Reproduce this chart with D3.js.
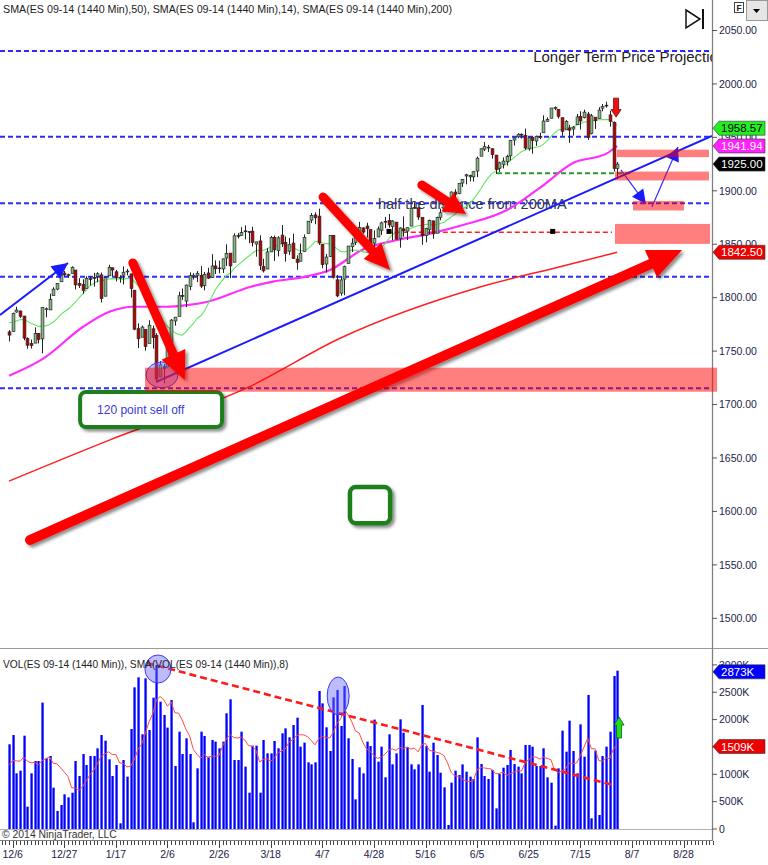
<!DOCTYPE html>
<html><head><meta charset="utf-8">
<script src="https://cdn.jsdelivr.net/npm/d3@7"></script>
<style>
html,body{margin:0;padding:0;background:#fff;}
svg{display:block;font-family:"Liberation Sans",Arial,sans-serif;}
</style></head><body>
<svg id="c" width="768" height="865"></svg>
<script>
// ---------------- DATA ----------------
const opens = [1768.0,1768.4,1786.6,1787.5,1782.8,1761.7,1757.0,1757.5,1766.5,1761.5,
1789.0,1788.6,1802.0,1808.0,1814.9,1823.0,1821.5,1822.6,1825.9,1813.2,
1812.3,1808.7,1817.9,1819.0,1820.1,1821.3,1801.4,1820.5,1828.0,1824.2,
1818.5,1821.1,1824.7,1822.3,1807.0,1771.0,1763.0,1770.2,1757.2,1770.9,
1764.7,1725.8,1735.4,1735.0,1758.0,1778.2,1782.5,1802.1,1796.8,1810.5,
1820.0,1820.8,1820.9,1811.2,1823.1,1818.8,1829.7,1827.8,1826.9,1837.1,
1841.7,1833.2,1858.1,1858.2,1862.5,1861.9,1862.3,1850.2,1853.1,1829.1,
1826.8,1842.9,1856.3,1844.1,1858.5,1851.7,1843.5,1851.1,1836.1,1834.1,
1843.2,1860.0,1872.6,1877.4,1876.3,1849.9,1831.5,1838.6,1858.3,1816.7,
1804.2,1817.4,1832.0,1847.7,1851.8,1858.6,1865.3,1867.0,1863.7,1851.0,
1856.8,1863.1,1871.4,1872.3,1866.5,1870.7,1855.5,1864.4,1862.3,1867.0,
1883.8,1884.1,1875.2,1858.2,1863.7,1871.9,1860.3,1875.2,1880.3,1887.5,
1889.0,1898.8,1897.6,1907.3,1913.9,1913.1,1913.1,1918.5,1932.4,1939.0,
1940.3,1939.4,1933.4,1920.8,1924.8,1927.2,1932.7,1947.5,1950.5,1952.9,
1952.0,1939.3,1949.9,1946.6,1950.8,1954.3,1965.1,1967.9,1977.0,1976.2,
1968.4,1957.1,1958.7,1957.8,1961.9,1969.4,1968.4,1971.8,1953.5,1968.9,
1967.6,1977.3,1980.1,1971.0,1964.0,1921.0];
const highs = [1769.6,1786.0,1791.5,1788.0,1783.0,1762.9,1760.8,1772.2,1766.8,1791.1,
1790.9,1803.8,1809.8,1813.3,1822.8,1824.9,1822.5,1829.4,1825.9,1818.2,
1817.2,1820.1,1820.0,1823.2,1823.8,1823.5,1819.3,1830.8,1828.0,1826.0,
1821.0,1829.3,1826.9,1822.3,1807.0,1776.0,1773.9,1770.2,1778.8,1773.9,
1766.8,1740.7,1737.8,1756.1,1780.0,1781.9,1805.5,1808.6,1812.3,1823.7,
1823.0,1824.9,1829.5,1824.1,1828.1,1840.7,1834.9,1834.7,1836.5,1849.9,
1841.7,1860.2,1860.5,1865.9,1867.6,1861.9,1866.4,1852.4,1858.4,1836.4,
1846.3,1857.8,1858.1,1857.5,1868.0,1857.3,1855.9,1859.9,1839.6,1850.6,
1859.2,1871.8,1879.2,1879.8,1883.3,1850.0,1841.0,1858.4,1858.5,1821.1,
1820.2,1830.0,1848.3,1855.6,1857.9,1870.9,1865.8,1870.1,1863.7,1863.0,
1866.6,1871.2,1875.6,1878.3,1872.5,1870.7,1865.8,1876.1,1865.6,1884.1,
1889.2,1884.1,1875.2,1865.3,1873.0,1871.9,1875.8,1883.3,1888.3,1892.0,
1899.3,1901.5,1907.0,1911.0,1915.9,1915.1,1918.6,1932.0,1939.4,1945.6,
1943.0,1939.4,1933.4,1927.3,1931.2,1933.7,1947.7,1949.9,1953.9,1953.7,
1958.2,1950.8,1949.9,1951.5,1954.2,1970.6,1968.7,1977.6,1979.0,1976.2,
1968.4,1966.2,1961.8,1960.7,1971.9,1974.5,1975.9,1973.8,1971.9,1968.9,
1978.2,1981.2,1983.4,1975.0,1965.0,1927.0];
const lows = [1759.1,1768.4,1786.0,1781.0,1760.1,1752.3,1752.4,1757.5,1757.2,1748.0,
1781.7,1788.6,1802.0,1807.0,1814.9,1819.8,1818.8,1822.4,1807.7,1809.1,
1803.7,1808.7,1811.4,1810.4,1814.4,1795.5,1801.4,1820.5,1820.3,1815.2,
1814.0,1812.4,1820.9,1800.1,1769.5,1752.9,1763.0,1750.5,1757.2,1752.3,
1721.7,1725.8,1719.9,1735.0,1758.0,1773.8,1782.5,1798.0,1791.2,1807.0,
1817.0,1814.6,1809.0,1806.9,1817.6,1818.8,1822.2,1822.7,1823.1,1829.7,
1818.4,1833.2,1855.4,1858.2,1854.6,1851.0,1847.9,1838.4,1825.9,1823.6,
1826.8,1842.9,1834.4,1838.6,1847.5,1833.7,1840.0,1836.6,1826.1,1834.1,
1843.2,1860.0,1869.8,1868.7,1849.3,1827.5,1823.5,1838.4,1817.9,1800.4,
1801.8,1802.3,1832.0,1842.7,1849.2,1858.6,1859.9,1856.2,1845.7,1836.6,
1856.8,1858.7,1865.0,1865.5,1853.8,1854.7,1846.8,1857.1,1854.0,1867.0,
1883.1,1872.8,1849.4,1851.8,1859.4,1855.1,1860.3,1872.4,1880.3,1886.5,
1889.0,1894.3,1896.8,1903.6,1906.0,1908.8,1908.6,1912.9,1932.4,1937.2,
1936.4,1930.1,1915.8,1917.7,1920.9,1923.6,1928.4,1942.3,1949.2,1948.9,
1938.3,1937.5,1934.7,1942.0,1948.2,1954.3,1964.6,1967.9,1975.5,1967.7,
1951.5,1957.1,1944.9,1951.6,1961.9,1957.3,1967.7,1947.6,1952.8,1957.8,
1967.6,1974.4,1977.8,1960.0,1918.0,1911.0];
const closes = [1765.0,1785.1,1788.4,1782.6,1762.2,1755.5,1755.3,1766.5,1761.0,1790.7,
1789.6,1798.3,1808.0,1813.3,1822.0,1821.4,1821.1,1828.4,1812.0,1811.4,
1806.8,1817.9,1817.5,1818.1,1822.4,1799.2,1818.9,1828.4,1825.9,1818.7,
1819.0,1823.8,1824.9,1808.5,1770.5,1761.6,1772.5,1754.2,1774.2,1762.6,
1723.9,1737.2,1733.6,1755.4,1779.0,1781.8,1801.8,1801.3,1811.8,1820.6,
1821.0,1822.8,1810.8,1821.8,1818.3,1829.6,1827.1,1827.2,1836.3,1841.5,
1829.7,1857.9,1857.8,1861.0,1862.0,1861.2,1851.6,1852.2,1830.3,1825.1,
1842.8,1856.3,1844.8,1856.0,1850.5,1841.4,1849.6,1836.6,1833.0,1841.6,
1856.3,1871.5,1876.9,1874.8,1851.1,1831.0,1838.0,1858.2,1819.1,1801.7,
1816.6,1829.0,1848.3,1850.9,1857.9,1865.6,1861.4,1864.6,1849.4,1855.4,
1864.3,1870.0,1870.7,1868.1,1871.7,1854.7,1865.2,1862.6,1865.5,1883.7,
1884.5,1875.5,1857.9,1864.9,1872.1,1859.8,1875.0,1879.5,1887.5,1891.0,
1898.9,1896.8,1907.0,1910.6,1915.0,1914.2,1917.9,1930.5,1939.4,1941.3,
1940.8,1933.9,1920.1,1926.2,1927.8,1932.0,1947.0,1949.5,1952.9,1952.6,
1940.0,1949.5,1947.2,1951.0,1950.2,1965.3,1966.6,1977.4,1978.0,1969.7,
1955.7,1964.8,1956.7,1959.6,1969.1,1965.3,1973.6,1950.1,1970.2,1965.6,
1975.5,1979.0,1980.0,1965.0,1921.0,1925.0];
// closes of the 13 sessions before the first visible bar (for SMA 14)
const priorCloses = [1778.2,1771.5,1767.9,1761.4,1775.9,1784.8,1782.5,1782.8,1787.2,1785.8,1780.9,1775.2,1772.8];
// volume, thousands of contracts
const volumes = [1548,1718,1018,1066,1706,408,1018,1243,1243,2310,
1292,1335,756,329,439,634,579,664,1243,969,
1371,1170,1335,1335,1475,1718,1615,1274,969,1170,
104,1261,957,1828,2590,2773,1731,2754,1810,2401,
2998,2328,2084,1853,2358,1152,1779,1371,1658,1371,
122,1109,1779,1700,1322,1627,1597,1475,1597,2115,
2371,1261,1261,1779,1140,664,1523,1523,664,1627,
1383,1383,1609,1475,1749,1840,1676,1901,2035,1505,
1578,1219,1182,1219,2523,2297,1859,1426,2407,2541,
1883,2614,1658,1280,542,1127,1018,1597,
1517,2000,1231,1505,945,1731,1182,1383,2005,1761,
1493,1182,1091,1182,2267,1517,1048,1578,1353,1030,
762,73,847,1066,987,1182,1048,957,914,1676,
1188,969,914,1079,378,1005,1121,1170,1444,1188,
1140,1018,1536,1536,1505,1152,1152,1475,945,847,
61,1109,1798,1414,1981,1426,1018,1913,1322,2450,
195,1432,256,1334,1505,1779,2797,2894];
const priorVolumes = [1100,1050,1150,1100,1000,1250,1200];
// SMA 50 and SMA 200 (bar index, value)
const sma50Bars = [0,9.3,20.2,27.4,33.7,42.8,48.2,53.6,65.4,71.6,80.8,87.1,96,105.3,114.2,123.2,135.1,144.1,153,162.2,165];
const sma50Vals = [1727,1743,1773,1787,1791.5,1791.5,1793,1796,1810,1815,1820,1826,1845,1854,1860,1868,1882,1903,1926,1935,1941.94];
const sma200Bars = [0,27.4,65.4,89.8,127.8,149.5,165];
const sma200Vals = [1628.4,1667,1717,1762,1810,1829,1842.5];
// axes
const priceTicks = [1500,1550,1600,1650,1700,1750,1800,1850,1900,1950,2000,2050];
const volTicks = [0,500,1000,2000,2500,3000];   // 1500K sits fully behind the 1509K marker in the reference
const xTickLabels = ["12/6","12/27","1/17","2/6","2/26","3/18","4/7","4/28","5/16","6/5","6/25","7/15","8/7","8/28"];
const xTickBars = [1,15,29,43,57,71,85,99,113,127,141,155,169,183];
// last-value markers
const priceMarkers = [{v:1958.57,t:"1958.57",bg:"#22ee22",fg:"#000"},{v:1941.94,t:"1941.94",bg:"#ff22ff",fg:"#fff"},{v:1925.00,t:"1925.00",bg:"#000",fg:"#fff"},{v:1842.50,t:"1842.50",bg:"#ee0000",fg:"#fff"}];
const volMarkers = [{v:2873,t:"2873K",bg:"#0000ff",fg:"#fff"},{v:1509,t:"1509K",bg:"#ee0000",fg:"#fff"}];

// drawing objects (bar index / price coordinates)
const blueLevels = [2030.8,1950.6,1888.3,1819.5,1715.2];
const zones = [[36.9,192.1,1734.5,1712],[164.9,189.9,1938.5,1931.5],[164.4,189.9,1918,1909.7],[169.3,183.1,1890.5,1881.6],[164.4,190.2,1869,1850.3]];

// ---------------- CHART ----------------
const svg = d3.select("#c");
const PR = 712;
const x = d3.scaleLinear().domain([0,165]).range([9, 9+165*3.686]);
const yP = d3.scaleLinear().domain([1500,2050]).range([618.3,30.5]);
const yV = d3.scaleLinear().domain([0,3000]).range([829,664.9]);

const defs = svg.append("defs");
defs.append("clipPath").attr("id","cp").append("rect").attr("x",0).attr("y",0).attr("width",PR).attr("height",648);
defs.append("clipPath").attr("id","cv").append("rect").attr("x",0).attr("y",650).attr("width",PR).attr("height",180);
const f = defs.append("filter").attr("id","sh").attr("x","-30%").attr("y","-30%").attr("width","160%").attr("height","160%");
f.append("feDropShadow").attr("dx",2.5).attr("dy",2.5).attr("stdDeviation",1.6).attr("flood-color","#000").attr("flood-opacity",0.45);

function sma(prior, vals, n){
  const all = prior.concat(vals);
  return vals.map((v,k)=>{const e=prior.length+k; let s=0; for(let j=e-n+1;j<=e;j++) s+=all[j]; return s/n;});
}
const sma14 = sma(priorCloses, closes, 14);
const volSma8 = sma(priorVolumes, volumes, 8);

// frame
svg.append("line").attr("x1",0).attr("x2",768).attr("y1",648.5).attr("y2",648.5).attr("stroke","#9a9a9a");
svg.append("line").attr("x1",PR+0.5).attr("x2",PR+0.5).attr("y1",0).attr("y2",841).attr("stroke","#808080").attr("stroke-width",1.3);
svg.append("line").attr("x1",0).attr("x2",PR).attr("y1",829.5).attr("y2",829.5).attr("stroke","#b0b0b0");
svg.append("line").attr("x1",0).attr("x2",PR+1).attr("y1",840.5).attr("y2",840.5).attr("stroke","#808080");

const gp = svg.append("g").attr("clip-path","url(#cp)");

// blue levels
gp.selectAll(".bl").data(blueLevels).enter().append("line")
  .attr("x1",0).attr("x2",PR).attr("y1",d=>yP(d)).attr("y2",d=>yP(d))
  .attr("stroke","#2b2bff").attr("stroke-width",2).attr("stroke-dasharray","5,3");

// text annotations
gp.append("text").attr("x",x(142.2)).attr("y",yP(2020.5)).attr("font-size",15).attr("fill","#222").text("Longer Term Price Projection");
gp.append("text").attr("x",x(100.1)).attr("y",yP(1882.8)).attr("font-size",14.5).attr("fill","#2e3650").text("half the distance from 200MA");

// green & red dashed lines
gp.append("line").attr("x1",x(132.4)).attr("x2",x(169)).attr("y1",yP(1916.4)).attr("y2",yP(1916.4))
  .attr("stroke","#2a9a2a").attr("stroke-width",2).attr("stroke-dasharray","5,3");
gp.append("line").attr("x1",x(102.5)).attr("x2",x(163.6)).attr("y1",yP(1861.2)).attr("y2",yP(1861.2))
  .attr("stroke","#ff2020").attr("stroke-width",1.6).attr("stroke-dasharray","5,3");

// moving averages
const line = d3.line();
gp.append("path").attr("d", d3.line().curve(d3.curveMonotoneX)(sma200Bars.map((b,k)=>[x(b),yP(sma200Vals[k])])))
  .attr("fill","none").attr("stroke","#ff2020").attr("stroke-width",1.5);
gp.append("path").attr("d", d3.line().curve(d3.curveMonotoneX)(sma50Bars.map((b,k)=>[x(b),yP(sma50Vals[k])])))
  .attr("fill","none").attr("stroke","#ff2eff").attr("stroke-width",2.2);
gp.append("path").attr("d", line(sma14.map((v,k)=>[x(k),yP(v)])))
  .attr("fill","none").attr("stroke","#5fe85f").attr("stroke-width",1.1);

// candles
const cg = gp.append("g");
closes.forEach((c,k)=>{
  const cx = Math.round(x(k))+0.5;
  cg.append("line").attr("x1",cx).attr("x2",cx).attr("y1",yP(highs[k])).attr("y2",yP(lows[k])).attr("stroke","#222").attr("stroke-width",1);
  const top = yP(Math.max(opens[k],c)), bot = yP(Math.min(opens[k],c));
  cg.append("rect").attr("x",cx-1.4).attr("width",2.8).attr("y",top).attr("height",Math.max(0.8,bot-top))
    .attr("fill", c>=opens[k] ? "#86b886" : "#b80000").attr("stroke","#262626").attr("stroke-width",0.7);
});

// trend line & blue arrows
function head(g,x1,y1,x2,y2,L,Hh,col){
  const a=Math.atan2(y2-y1,x2-x1),c=Math.cos(a),s=Math.sin(a),bx=x2-L*c,by=y2-L*s;
  g.append("path").attr("d",`M${x2},${y2}L${bx-Hh*s},${by+Hh*c}L${bx+Hh*s},${by-Hh*c}Z`).attr("fill",col);
}
gp.append("line").attr("x1",x(39.9)).attr("y1",yP(1721.1)).attr("x2",x(190.7)).attr("y2",yP(1951.3)).attr("stroke","#1a1aff").attr("stroke-width",2);
[[166,1919.5,172.8,1887.7],[174.4,1884.9,181.5,1941]].forEach(a=>{
  gp.append("line").attr("x1",x(a[0])).attr("y1",yP(a[1])).attr("x2",x(a[2])).attr("y2",yP(a[3])).attr("stroke","#3030ff").attr("stroke-width",1.2);
  head(gp,x(a[0]),yP(a[1]),x(a[2]),yP(a[3]),14,7,"#1a1aff");
});
gp.append("line").attr("x1",x(-2.44)).attr("y1",yP(1783.8)).attr("x2",x(16)).attr("y2",yP(1832.5)).attr("stroke","#1a1aff").attr("stroke-width",2);
head(gp,x(-2.44),yP(1783.8),x(16),yP(1832.5),16,8,"#1a1aff");

// zones (drawn unclipped: the long one runs past the axis)
svg.selectAll(".zn").data(zones).enter().append("rect")
  .attr("x",d=>x(d[0])).attr("width",d=>x(d[1])-x(d[0])).attr("y",d=>yP(d[2])).attr("height",d=>yP(d[3])-yP(d[2]))
  .attr("fill","#ff0000").attr("opacity",0.5);

// black squares on the red dashed line
[103.1,147.5].forEach(b=>gp.append("rect").attr("x",x(b)-2.5).attr("y",yP(1862)-2.5).attr("width",5).attr("height",5).attr("fill","#000"));

// ellipse at the low
gp.append("ellipse").attr("cx",x(41.5)).attr("cy",yP(1727.7)).attr("rx",16).attr("ry",13)
  .attr("fill","#6a6aff").attr("fill-opacity",0.45).attr("stroke","#3a3aff");

// red thick arrows
function thick(g,x1,y1,x2,y2,w,L,Hh){
  const a=Math.atan2(y2-y1,x2-x1),c=Math.cos(a),s=Math.sin(a),bx=x2-L*c,by=y2-L*s;
  const gg=g.append("g").attr("filter","url(#sh)");
  gg.append("line").attr("x1",x1).attr("y1",y1).attr("x2",bx+3*c).attr("y2",by+3*s).attr("stroke","#ff0000").attr("stroke-width",w).attr("stroke-linecap","round");
  gg.append("path").attr("d",`M${x2},${y2}L${bx-Hh*s},${by+Hh*c}L${bx+Hh*s},${by-Hh*c}Z`).attr("fill","#ff0000");
}
thick(gp,x(5.7),yP(1573.3),x(182.6),yP(1844.6),10,34,15);
thick(gp,x(33.6),yP(1832.5),x(47.7),yP(1723),9,28,13);
thick(gp,x(85.2),yP(1894.2),x(103.4),yP(1825.9),9,26,12);
thick(gp,x(112),yP(1905.4),x(124),yP(1878.3),9,22,11);

// small red down arrow on the last big candle
(function(){
  const cx=x(164.7), t=yP(1986.7), m=yP(1976), b=yP(1969);
  gp.append("path").attr("d",`M${cx-2.5},${t}L${cx+2.5},${t}L${cx+2.5},${m}L${cx+5},${m}L${cx},${b}L${cx-5},${m}L${cx-2.5},${m}Z`)
    .attr("fill","#ee1111").attr("stroke","#7a0000").attr("stroke-width",0.8);
})();

// callout boxes
gp.append("rect").attr("x",x(19.3)).attr("y",yP(1711.8)).attr("width",x(57.8)-x(19.3)).attr("height",yP(1679)-yP(1711.8))
  .attr("rx",6).attr("fill","#fff").attr("stroke","#1b7f1b").attr("stroke-width",4).attr("filter","url(#sh)");
gp.append("text").attr("x",x(23.9)).attr("y",yP(1691)).attr("font-size",12).attr("fill","#3a3ad8").text("120 point sell off");
gp.append("rect").attr("x",x(92.5)).attr("y",yP(1622.8)).attr("width",x(103.4)-x(92.5)).attr("height",yP(1589)-yP(1622.8))
  .attr("rx",6).attr("fill","#fff").attr("stroke","#1b7f1b").attr("stroke-width",4.5).attr("filter","url(#sh)");

// legend
svg.append("text").attr("x",3).attr("y",13).attr("font-size",10.7).attr("fill","#222")
  .text("SMA(ES 09-14 (1440 Min),50), SMA(ES 09-14 (1440 Min),14), SMA(ES 09-14 (1440 Min),200)");

// ---------------- VOLUME ----------------
const gv = svg.append("g").attr("clip-path","url(#cv)");
gv.selectAll(".vb").data(volumes).enter().append("rect")
  .attr("x",(d,k)=>Math.round(x(k))-0.6).attr("width",2.3).attr("y",d=>yV(d)).attr("height",d=>yV(0)-yV(d)).attr("fill","#0000ff");
gv.append("path").attr("d",line(volSma8.map((v,k)=>[x(k),yV(v)]))).attr("fill","none").attr("stroke","#ff4a4a").attr("stroke-width",1);
svg.append("text").attr("x",3).attr("y",668).attr("font-size",10.2).attr("fill","#222").text("VOL(ES 09-14 (1440 Min)), SMA(VOL(ES 09-14 (1440 Min)),8)");
gv.append("line").attr("x1",x(37.4)).attr("y1",yV(3035)).attr("x2",x(163.9)).attr("y2",yV(804))
  .attr("stroke","#ff1a1a").attr("stroke-width",2.6).attr("stroke-dasharray","7,4");
[[40.4,2925,13,14],[89.3,2432,11,19]].forEach(e=>gv.append("ellipse").attr("cx",x(e[0])).attr("cy",yV(e[1])).attr("rx",e[2]).attr("ry",e[3])
  .attr("fill","#6a6aff").attr("fill-opacity",0.45).attr("stroke","#3a3aff"));
(function(){
  const cx=x(165.5), t=yV(2047), m=yV(1900), b=yV(1664);
  gv.append("path").attr("d",`M${cx},${t}L${cx+5},${m}L${cx+2.5},${m}L${cx+2.5},${b}L${cx-2.5},${b}L${cx-2.5},${m}L${cx-5},${m}Z`)
    .attr("fill","#22dd22").attr("stroke","#006600").attr("stroke-width",0.8);
})();
svg.append("text").attr("x",2).attr("y",838).attr("font-size",10.4).attr("fill","#333").text("\u00a9 2014 NinjaTrader, LLC");

// ---------------- AXES ----------------
const ax = svg.append("g").attr("font-size",10.5).attr("fill","#23234a");
priceTicks.forEach(p=>{
  ax.append("line").attr("x1",PR).attr("x2",PR+5).attr("y1",yP(p)).attr("y2",yP(p)).attr("stroke","#555");
  ax.append("text").attr("x",PR+7).attr("y",yP(p)+3.8).text(p.toFixed(2));
});
[0,500,1000,1500,2000,2500,3000].forEach(v=>{
  ax.append("line").attr("x1",PR).attr("x2",PR+5).attr("y1",yV(v)).attr("y2",yV(v)).attr("stroke","#555");
});
volTicks.forEach(v=>{
  ax.append("text").attr("x",PR+7).attr("y",yV(v)+3.8).text(v===0?"0":v+"K");
});
function marker(val,scale,m){
  const y=scale(val), x0=PR+1, x1=765;
  svg.append("path").attr("d",`M${x0},${y}L${x0+6},${y-7}L${x1},${y-7}L${x1},${y+7}L${x0+6},${y+7}Z`).attr("fill",m.bg).attr("stroke","#333").attr("stroke-width",0.6);
  svg.append("text").attr("x",x0+8).attr("y",y+4.2).attr("font-size",11.5).attr("fill",m.fg).text(m.t);
}
priceMarkers.forEach(m=>marker(m.v,yP,m));
volMarkers.forEach(m=>marker(m.v,yV,m));

// x axis
for(let b=-2;b<=191;b++){
  const major = xTickBars.indexOf(b)>=0;
  svg.append("line").attr("x1",Math.round(x(b))+0.5).attr("x2",Math.round(x(b))+0.5).attr("y1",841).attr("y2",major?848:845).attr("stroke","#444");
}
xTickLabels.forEach((t,k)=>{
  svg.append("text").attr("x",x(xTickBars[k])).attr("y",858).attr("text-anchor","middle").attr("font-size",10.5).attr("fill","#23234a").text(t);
});

// toolbar icons
svg.append("path").attr("d","M686,10L700,19L686,28Z").attr("fill","none").attr("stroke","#111").attr("stroke-width",1.5);
svg.append("line").attr("x1",703).attr("x2",703).attr("y1",9).attr("y2",29).attr("stroke","#111").attr("stroke-width",2);
svg.append("rect").attr("x",734.5).attr("y",2.5).attr("width",9).attr("height",10).attr("fill","#fff").attr("stroke","#444");
svg.append("text").attr("x",736.5).attr("y",11).attr("font-size",8.5).attr("font-weight","bold").attr("fill","#222").text("F");
svg.append("rect").attr("x",746.5).attr("y",0.5).attr("width",21).attr("height",20).attr("fill","#e6e6e6").attr("stroke","#999");
svg.append("path").attr("d","M753,9L760,9L756.5,13Z").attr("fill","#000");
</script>
</body></html>
